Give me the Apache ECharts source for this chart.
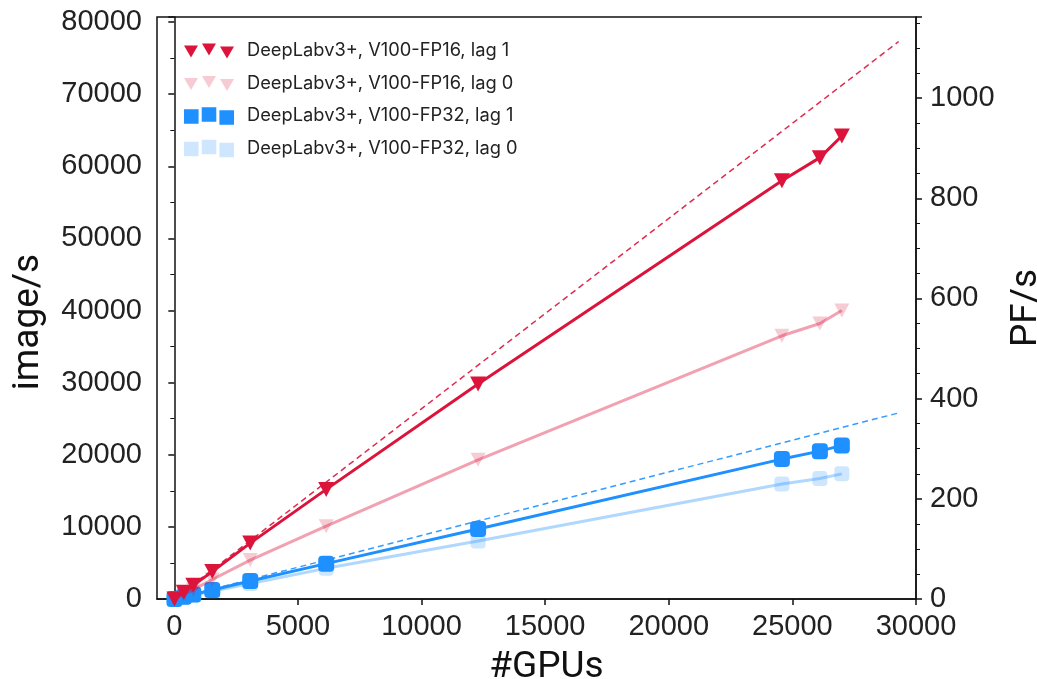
<!DOCTYPE html>
<html>
<head>
<meta charset="utf-8">
<script src="https://cdn.jsdelivr.net/npm/echarts@6/dist/echarts.min.js"></script>
<style>
  html, body { margin: 0; padding: 0; background: #fff; }
  #chart { width: 1037px; height: 679px; }
</style>
</head>
<body>
<div id="chart"></div>
<script>
// ---- data ----
const gpus = [6, 384, 768, 1536, 3072, 6144, 12288, 24576, 26112, 27000];
const fp16Lag1 = [16, 950, 1900, 3800, 7750, 15200, 29800, 58000, 61200, 64200];
const fp16Lag0 = [10, 650, 1300, 2700, 5400, 10100, 19300, 36500, 38200, 40000];
const fp32Lag1 = [5, 310, 620, 1250, 2500, 4900, 9700, 19400, 20500, 21300];
const fp32Lag0 = [4, 270, 540, 1080, 2150, 4250, 8050, 15950, 16700, 17350];
const idealGpus = [6, 29300];
const idealFp16 = [16, 77300];
const idealFp32 = [5, 25800];
const seriesNames = [
  'DeepLabv3+, V100-FP16, lag 1',
  'DeepLabv3+, V100-FP16, lag 0',
  'DeepLabv3+, V100-FP32, lag 1',
  'DeepLabv3+, V100-FP32, lag 0'
];
const xTicks = [0, 5000, 10000, 15000, 20000, 25000, 30000];

const pair = (xs, ys) => xs.map((x, i) => [x, ys[i]]);

const RED = '#DC143C';
const BLUE = '#1E90FF';
const triPath = 'path://M0,0 L10,0 L5,9 Z';
const triLegend = 'path://M0,2 L14,2 L7,14 Z M18,0 L32,0 L25,12 Z M36,3 L50,3 L43,15 Z';
const sqLegend = 'path://M0,2 L14,2 L14,16 L0,16 Z M17,0 L31,0 L31,14 L17,14 Z M34,3 L48,3 L48,17 L34,17 Z';

const tickFont = { fontFamily: 'Liberation Sans', fontSize: 29, color: '#222' };
const titleFont = { fontFamily: 'Roboto', fontSize: 37, color: '#111' };
const plain = v => String(v);

const chart = echarts.init(document.getElementById('chart'));
chart.setOption({
  animation: false,
  backgroundColor: '#fff',
  grid: { left: 157, right: 121, top: 17, bottom: 80, show: true, borderColor: '#111', borderWidth: 1.5, containLabel: false, outerBoundsMode: 'none' },
  legend: {
    left: 179, top: 37, orient: 'vertical', itemGap: 14.5, itemWidth: 50, itemHeight: 18,
    textStyle: { fontFamily: 'Inter', fontSize: 18.3, color: '#222', padding: [0, 0, 0, 8] },
    data: [
      { name: seriesNames[0], icon: triLegend },
      { name: seriesNames[1], icon: triLegend },
      { name: seriesNames[2], icon: sqLegend },
      { name: seriesNames[3], icon: sqLegend }
    ]
  },
  xAxis: {
    type: 'value', min: -700, max: 30000,
    name: '#GPUs', nameLocation: 'middle', nameGap: 50,
    nameTextStyle: { ...titleFont, padding: [0, 0, 0, 20] },
    axisLine: { lineStyle: { color: '#111', width: 1.5 } },
    axisTick: { show: true, length: 6, customValues: xTicks, lineStyle: { color: '#111', width: 1.5 } },
    axisLabel: { customValues: xTicks, margin: 13, formatter: plain, ...tickFont },
    splitLine: { show: false }
  },
  yAxis: [
    {
      type: 'value', min: 0, max: 80700, interval: 10000, position: 'left',
      name: 'image/s', nameLocation: 'middle', nameGap: 110, nameRotate: 90,
      nameTextStyle: { ...titleFont, padding: [0, 28, 0, 0] },
      axisLine: { show: true, lineStyle: { color: '#111', width: 1.5 } },
      axisTick: { show: true, length: 6, lineStyle: { color: '#111', width: 1.5 } },
      minorTick: { show: true, splitNumber: 2, length: 4, lineStyle: { color: '#111', width: 1 } },
      axisLabel: { margin: 15, formatter: plain, showMaxLabel: false, ...tickFont },
      splitLine: { show: false }
    },
    {
      type: 'value', min: 0, max: 1162, interval: 200, position: 'right',
      name: 'PF/s', nameLocation: 'middle', nameGap: 92, nameRotate: 90, nameTextStyle: titleFont,
      axisLine: { show: true, lineStyle: { color: '#111', width: 1.5 } },
      axisTick: { show: true, length: 6, lineStyle: { color: '#111', width: 1.5 } },
      minorTick: { show: true, splitNumber: 4, length: 4, lineStyle: { color: '#111', width: 1 } },
      axisLabel: { margin: 14, formatter: plain, showMaxLabel: false, ...tickFont },
      splitLine: { show: false }
    }
  ],
  series: [
    {
      name: 'idealFp16', type: 'line', data: pair(idealGpus, idealFp16), symbol: 'none',
      lineStyle: { color: RED, width: 1.5, type: [6, 4], opacity: 0.9 }, z: 2, silent: true
    },
    {
      name: 'idealFp32', type: 'line', data: pair(idealGpus, idealFp32), symbol: 'none',
      lineStyle: { color: BLUE, width: 1.5, type: [6, 4], opacity: 0.9 }, z: 2, silent: true
    },
    {
      name: seriesNames[3], type: 'line', data: pair(gpus, fp32Lag0),
      symbol: 'roundRect', symbolSize: 15,
      itemStyle: { color: 'rgba(30,144,255,0.22)' },
      lineStyle: { color: 'rgba(30,144,255,0.35)', width: 3 }, z: 3
    },
    {
      name: seriesNames[2], type: 'line', data: pair(gpus, fp32Lag1),
      symbol: 'roundRect', symbolSize: 16,
      itemStyle: { color: BLUE },
      lineStyle: { color: BLUE, width: 3 }, z: 4
    },
    {
      name: seriesNames[1], type: 'line', data: pair(gpus, fp16Lag0),
      symbol: triPath, symbolSize: [15, 14],
      itemStyle: { color: 'rgba(220,20,60,0.22)' },
      lineStyle: { color: 'rgba(220,20,60,0.4)', width: 3 }, z: 5
    },
    {
      name: seriesNames[0], type: 'line', data: pair(gpus, fp16Lag1),
      symbol: triPath, symbolSize: [16, 15],
      itemStyle: { color: RED },
      lineStyle: { color: RED, width: 3 }, z: 6
    }
  ]
});
</script>
</body>
</html>
